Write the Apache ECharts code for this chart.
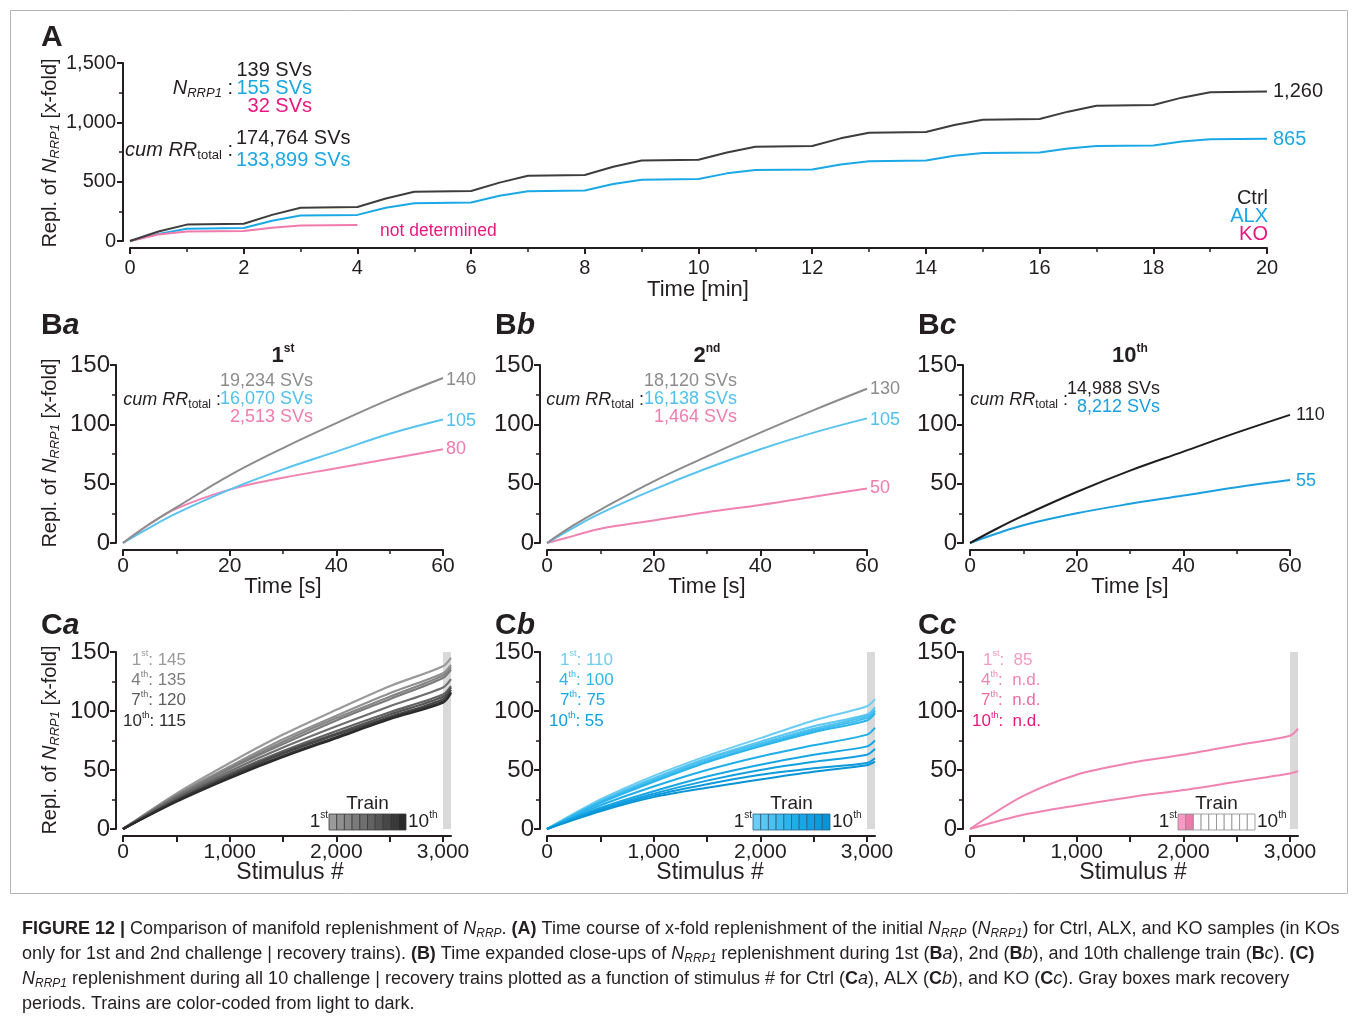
<!DOCTYPE html>
<html><head><meta charset="utf-8">
<script src="https://cdn.jsdelivr.net/npm/echarts@6/dist/echarts.min.js"></script>
<style>html,body{margin:0;padding:0;background:#fff}#c{width:1358px;height:1022px}</style>
</head><body><div id="c"></div><script>
// ================= DATA =================
// Panel A: cumulative x-fold replenishment over time [min]
const timeA = [0,0.5,1, 2,2.5,3, 4,4.5,5, 6,6.5,7, 8,8.5,9, 10,10.5,11, 12,12.5,13, 14,14.5,15, 16,16.5,17, 18,18.5,19, 20];
const ctrlA = [0,80,138, 145,220,280, 286,358,415, 421,492,550, 556,625,678, 684,745,795, 801,865,912, 918,978,1022, 1028,1090,1140, 1146,1208,1254, 1260];
const alxA  = [0,60,104, 110,170,214, 220,280,318, 324,382,420, 426,480,516, 522,570,598, 603,645,673, 678,718,741, 746,780,801, 805,838,857, 862];
const timeKO = [0,0.5,1,2,2.5,3,4];
const koA    = [0,55,80,85,111,131,134];

// Panel B: close-ups, time [s]
const timeB = [0,5,10,20,30,40,50,60];
const ctrlBa = [0,16,30,57,80,101,121,139];
const alxBa  = [0,13,25,45,62,77,92,104];
const koBa   = [0,16,29,45,55,63,71,79];
const ctrlBb = [0,15,28,52,73,93,112,130];
const alxBb  = [0,13,25,45,63,79,93,105];
const koBb   = [0,6,12,19,26,32,39,46];
const ctrlBc = [0,12,23,43,61,77,93,108];
const alxBc  = [0,8,15,25,33,40,47,53];

// Panel C: per train vs stimulus #
const stimC = [0,500,1000,1500,2000,2500,3000,3075];
const recovery = [3000, 3075];
const ctrlTrains = [
  [0,30,56,80,101,121,138,145],
  [0,29,53,76,96,115,132,139],
  [0,28,52,74,94,112,130,137],
  [0,28,51,72,92,110,128,135],
  [0,27,49,69,87,104,120,127],
  [0,26,47,66,83,99,114,121],
  [0,25,46,65,81,97,112,120],
  [0,24,45,64,80,95,110,118],
  [0,24,44,62,78,94,108,116],
  [0,23,43,61,77,93,107,115]
];
const alxTrains = [
  [0,25,45,62,77,92,104,110],
  [0,24,43,60,74,87,97,103],
  [0,23,42,59,72.5,85,95.5,101],
  [0,23,41,57.5,71,83.5,94,100],
  [0,22,40,56.5,70,82,92,98],
  [0,20,36,50,61.5,71,80,86],
  [0,18,32,44.5,54.5,63,70,75],
  [0,17,30,41,50,57,63,68],
  [0,16,28.5,38,46,51.5,56,60],
  [0,15,27,35,42,48.5,54,57]
];
const koTrains = [
  [0,28,46,56,63,71,79,85],
  [0,12,20,27,33,40,47,49]
];
const ticksC_x = [0,500,1000,1500,2000,2500,3000];
const labelsC_x = [0,1000,2000,3000];

// ================= STYLE =================
const FONT = '"Liberation Sans", Arial, Helvetica, sans-serif';
const INK = '#231f20';
const C_CTRL = '#3d3d3d', C_ALX = '#1ba8e6', C_KO_LINE = '#f07aaa', C_KO_TXT = '#e8187e';
const C_GRAY1 = '#8c8c8c', C_BLUE1 = '#5ac4f0', C_PINK1 = '#f183b3';
const C_BLK10 = '#1e1e1e', C_BLUE10 = '#1a9fe0';
const ctrlColors = ['#9a9a9a','#909090','#868686','#7b7b7b','#6f6f6f','#626262','#555555','#474747','#393939','#2b2b2b'];
const alxColors  = ['#6ccdf4','#5cc7f2','#4cc1f0','#3cbbee','#2cb4ec','#20aee9','#18a7e5','#12a0e0','#0e9adb','#0a94d6'];
const koColors   = ['#f59ac2','#ec7aad','#ffffff','#ffffff','#ffffff','#ffffff','#ffffff','#ffffff','#ffffff','#ffffff'];

const fmtK = v => Number(v).toLocaleString('en-US');

function richSet(s, bold) {
  const lh = Math.round(s * 1.21);
  const w = bold ? 'bold' : 'normal';
  const base = {fontFamily: FONT, fontSize: s, lineHeight: lh, fontWeight: w};
  return {
    n: {...base},
    i: {...base, fontStyle: 'italic'},
    b: {...base, fontWeight: 'bold'},
    bi: {...base, fontWeight: 'bold', fontStyle: 'italic'},
    sub: {fontFamily: FONT, fontSize: Math.round(s*0.65), verticalAlign: 'bottom', lineHeight: lh},
    subi: {fontFamily: FONT, fontSize: Math.round(s*0.65), verticalAlign: 'bottom', lineHeight: lh, fontStyle: 'italic'},
    sup: {fontFamily: FONT, fontSize: Math.round(s*0.55), verticalAlign: 'top', lineHeight: lh, fontWeight: w}
  };
}
function txt(x, y, text, o) {
  o = o || {};
  const s = o.size || 20;
  return {type:'text', x, y, rotation: o.rot || 0, z: 100, silent: true,
    style: {text, fill: o.color || INK, fontFamily: FONT, fontSize: s,
      fontWeight: o.weight || 'normal', fontStyle: o.italic ? 'italic' : 'normal',
      lineHeight: Math.round(s*1.21), align: o.align || 'left', verticalAlign: 'middle',
      rich: richSet(s, o.weight === 'bold')}};
}

// ================= GRIDS & AXES =================
const grids = [
  {left:130, top:63, width:1137, height:178},
  {left:123, top:365, width:320, height:178},
  {left:547, top:365, width:320, height:178},
  {left:970, top:365, width:320, height:178},
  {left:123, top:652, width:328, height:177},
  {left:547, top:652, width:328, height:177},
  {left:970, top:652, width:328, height:177}
];
function axBase() {
  return {
    type:'value', offset:7,
    axisLine:{show:true, onZero:false, lineStyle:{color:INK, width:2}},
    axisTick:{show:true, inside:false, length:6, lineStyle:{color:INK, width:2}},
    minorTick:{show:true, splitNumber:2, length:4, lineStyle:{color:INK, width:1.5}},
    splitLine:{show:false}, minorSplitLine:{show:false}
  };
}
const xAxes = [], yAxes = [];
xAxes.push({...axBase(), gridIndex:0, min:0, max:20, interval:2,
  axisLabel:{fontSize:20, margin:10, color:INK, fontFamily:FONT}});
yAxes.push({...axBase(), gridIndex:0, min:0, max:1500, interval:500,
  axisLabel:{fontSize:20, margin:7, color:INK, fontFamily:FONT, formatter: fmtK}});
for (let g = 1; g <= 3; g++) {
  xAxes.push({...axBase(), gridIndex:g, min:0, max:60, interval:20,
    axisLabel:{fontSize:21, margin:6, color:INK, fontFamily:FONT}});
  yAxes.push({...axBase(), gridIndex:g, min:0, max:150, interval:50,
    axisLabel:{fontSize:24, margin:6, color:INK, fontFamily:FONT}});
}
for (let g = 4; g <= 6; g++) {
  const b = axBase();
  xAxes.push({...b, gridIndex:g, min:0, max:recovery[1], interval:500,
    axisTick:{...b.axisTick, customValues: ticksC_x},
    minorTick:{show:false},
    axisLabel:{fontSize:21, margin:6, color:INK, fontFamily:FONT, customValues: labelsC_x, formatter: fmtK}});
  yAxes.push({...axBase(), gridIndex:g, min:0, max:150, interval:50,
    axisLabel:{fontSize:24, margin:6, color:INK, fontFamily:FONT}});
}

// ================= SERIES =================
const series = [];
function line(gi, xs, ys, color, width, smooth, z) {
  series.push({type:'line', xAxisIndex:gi, yAxisIndex:gi, data: xs.map((x,i)=>[x, ys[i]]),
    showSymbol:false, symbol:'none', smooth: smooth || false, z: z || 3, silent:true,
    lineStyle:{color, width: width || 2}});
}
line(0, timeA, alxA, C_ALX, 2);
line(0, timeKO, koA, C_KO_LINE, 2);
line(0, timeA, ctrlA, C_CTRL, 2);

line(1, timeB, koBa, C_PINK1, 2, 0.4);
line(1, timeB, alxBa, C_BLUE1, 2, 0.4);
line(1, timeB, ctrlBa, C_GRAY1, 2, 0.4);
line(2, timeB, koBb, C_PINK1, 2, 0.4);
line(2, timeB, alxBb, C_BLUE1, 2, 0.4);
line(2, timeB, ctrlBb, C_GRAY1, 2, 0.4);
line(3, timeB, alxBc, C_BLUE10, 2, 0.4);
line(3, timeB, ctrlBc, C_BLK10, 2, 0.4);

for (let g = 4; g <= 6; g++) {
  series.push({type:'line', xAxisIndex:g, yAxisIndex:g, data:[[recovery[0],0]], showSymbol:false, symbol:'none',
    lineStyle:{width:0, opacity:0}, z:1, silent:true,
    markArea:{silent:true, itemStyle:{color:'#d9d9d9'},
      data:[[{xAxis:recovery[0], yAxis:0},{xAxis:recovery[1], yAxis:150}]]}});
}
ctrlTrains.forEach((d,i) => line(4, stimC, d, ctrlColors[i], 2.2, 0.3));
alxTrains.forEach((d,i) => line(5, stimC, d, alxColors[i], 2, 0.3));
koTrains.forEach((d,i) => line(6, stimC, d, C_PINK1, 2, 0.3));

// ================= TEXT / GRAPHICS =================
const G = [];
G.push({type:'rect', shape:{x:10.5, y:10.5, width:1337, height:883}, style:{fill:'none', stroke:'#b5b5b5', lineWidth:1}, silent:true});

// Panel letters
G.push(txt(41, 38, 'A', {size:30, weight:'bold'}));
G.push(txt(41, 326, 'B{bi|a}', {size:30, weight:'bold'}));
G.push(txt(495, 326, 'B{bi|b}', {size:30, weight:'bold'}));
G.push(txt(918, 326, 'B{bi|c}', {size:30, weight:'bold'}));
G.push(txt(41, 626, 'C{bi|a}', {size:30, weight:'bold'}));
G.push(txt(495, 626, 'C{bi|b}', {size:30, weight:'bold'}));
G.push(txt(918, 626, 'C{bi|c}', {size:30, weight:'bold'}));

// Y axis names
const yName = '{n|Repl. of }{i|N}{subi|RRP1}{n| [x-fold]}';
G.push(txt(50, 153, yName, {size:20, rot:Math.PI/2, align:'center'}));
G.push(txt(50, 453, yName, {size:20, rot:Math.PI/2, align:'center'}));
G.push(txt(50, 740, yName, {size:20, rot:Math.PI/2, align:'center'}));

// X axis names
G.push(txt(698, 290, 'Time [min]', {size:22, align:'center'}));
[283, 707, 1130].forEach(x => G.push(txt(x, 587, 'Time [s]', {size:22, align:'center'})));
[290, 710, 1133].forEach(x => G.push(txt(x, 873, 'Stimulus #', {size:23, align:'center'})));

// Panel A annotations
G.push(txt(233, 88, '{i|N}{subi|RRP1}{n| :}', {size:20, align:'right'}));
G.push(txt(312, 70, '139 SVs', {size:20, align:'right', color:INK}));
G.push(txt(312, 88, '155 SVs', {size:20, align:'right', color:C_ALX}));
G.push(txt(312, 106, '32 SVs', {size:20, align:'right', color:C_KO_TXT}));
G.push(txt(233, 150, '{i|cum RR}{sub|total}{n| :}', {size:20, align:'right'}));
G.push(txt(236, 138, '174,764 SVs', {size:20, color:INK}));
G.push(txt(236, 160, '133,899 SVs', {size:20, color:C_ALX}));
G.push(txt(1268, 198, 'Ctrl', {size:20, align:'right', color:INK}));
G.push(txt(1268, 216, 'ALX', {size:20, align:'right', color:C_ALX}));
G.push(txt(1268, 234, 'KO', {size:20, align:'right', color:C_KO_TXT}));
G.push(txt(380, 231, 'not determined', {size:17.5, color:C_KO_TXT}));
G.push(txt(1273, 91, '1,260', {size:20, color:INK}));
G.push(txt(1273, 139, '865', {size:20, color:C_ALX}));

// Panel B annotations
const TB1 = '#8c8c8c', TB2 = '#4fc0ef', TB3 = '#f07cb0';
G.push(txt(283, 356, '1{sup|st}', {size:22, weight:'bold', align:'center'}));
G.push(txt(707, 356, '2{sup|nd}', {size:22, weight:'bold', align:'center'}));
G.push(txt(1130, 356, '10{sup|th}', {size:22, weight:'bold', align:'center'}));
G.push(txt(313, 381, '19,234 SVs', {size:18, align:'right', color:TB1}));
G.push(txt(221, 400, '{i|cum RR}{sub|total}{n| :}', {size:18, align:'right'}));
G.push(txt(313, 399, '16,070 SVs', {size:18, align:'right', color:TB2}));
G.push(txt(313, 417, '2,513 SVs', {size:18, align:'right', color:TB3}));
G.push(txt(446, 380, '140', {size:18, color:TB1}));
G.push(txt(446, 421, '105', {size:18, color:TB2}));
G.push(txt(446, 449, '80', {size:18, color:TB3}));

G.push(txt(737, 381, '18,120 SVs', {size:18, align:'right', color:TB1}));
G.push(txt(644, 400, '{i|cum RR}{sub|total}{n| :}', {size:18, align:'right'}));
G.push(txt(737, 399, '16,138 SVs', {size:18, align:'right', color:TB2}));
G.push(txt(737, 417, '1,464 SVs', {size:18, align:'right', color:TB3}));
G.push(txt(870, 389, '130', {size:18, color:TB1}));
G.push(txt(870, 420, '105', {size:18, color:TB2}));
G.push(txt(870, 488, '50', {size:18, color:TB3}));

G.push(txt(1068, 400, '{i|cum RR}{sub|total}{n| :}', {size:18, align:'right'}));
G.push(txt(1160, 389, '14,988 SVs', {size:18, align:'right', color:INK}));
G.push(txt(1160, 407, '8,212 SVs', {size:18, align:'right', color:C_BLUE10}));
G.push(txt(1296, 415, '110', {size:18, color:INK}));
G.push(txt(1296, 481, '55', {size:18, color:C_BLUE10}));

// Panel C annotations
const caTxt = [['1{sup|st}: 145','#9a9a9a'],['4{sup|th}: 135','#7d7d7d'],['7{sup|th}: 120','#5c5c5c'],['10{sup|th}: 115','#2b2b2b']];
caTxt.forEach((t,i) => G.push(txt(186, 660 + i*20.4, t[0], {size:17, align:'right', color:t[1]})));
const cbTxt = [['1{sup|st}: 110','#6dcdf4',560],['4{sup|th}: 100','#2fb6ec',559],['7{sup|th}: 75','#1aa9e6',560],['10{sup|th}: 55','#0f9fe0',549]];
cbTxt.forEach((t,i) => G.push(txt(t[2], 660 + i*20.4, t[0], {size:17, color:t[1]})));
const ccTxt = [['1{sup|st}:  85','#f59ac0',983],['4{sup|th}:  n.d.','#f184b4',981],['7{sup|th}:  n.d.','#ee6aa4',981],['10{sup|th}:  n.d.','#e6177d',972]];
ccTxt.forEach((t,i) => G.push(txt(t[2], 660 + i*20.4, t[0], {size:17, color:t[1]})));

// Train legends
function trainLegend(x0, colors, stroke) {
  const w = 77, h = 16, y0 = 814, n = colors.length;
  G.push(txt(x0 + w/2, 804, 'Train', {size:19, align:'center'}));
  G.push(txt(x0 - 1, 822, '1{sup|st}', {size:19, align:'right'}));
  G.push(txt(x0 + w + 2, 822, '10{sup|th}', {size:19}));
  colors.forEach((c,i) => G.push({type:'rect', z:100, silent:true,
    shape:{x: x0 + i*w/n, y: y0, width: w/n, height: h},
    style:{fill:c, stroke: stroke, lineWidth:0.8}}));
}
trainLegend(329, ctrlColors, '#3a3a3a');
trainLegend(753, alxColors, '#2a5f80');
trainLegend(1178, koColors, '#8a8a8a');

// Caption
const cap = [
  '{b|FIGURE 12 |} Comparison of manifold replenishment of {i|N}{subi|RRP}. {b|(A)} Time course of x-fold replenishment of the initial {i|N}{subi|RRP} ({i|N}{subi|RRP1}) for Ctrl, ALX, and KO samples (in KOs',
  'only for 1st and 2nd challenge | recovery trains). {b|(B)} Time expanded close-ups of {i|N}{subi|RRP1} replenishment during 1st ({b|B}{i|a}), 2nd ({b|B}{i|b}), and 10th challenge train ({b|B}{i|c}). {b|(C)}',
  '{i|N}{subi|RRP1} replenishment during all 10 challenge | recovery trains plotted as a function of stimulus # for Ctrl ({b|C}{i|a}), ALX ({b|C}{i|b}), and KO ({b|C}{i|c}). Gray boxes mark recovery',
  'periods. Trains are color-coded from light to dark.'
];
cap.forEach((t,i) => G.push(txt(22, 929 + i*25, t, {size:18})));

const chart = echarts.init(document.getElementById('c'), null, {renderer:'canvas'});
chart.setOption({
  animation:false,
  backgroundColor:'#ffffff',
  grid: grids,
  xAxis: xAxes,
  yAxis: yAxes,
  series,
  graphic:{elements:G}
});
</script></body></html>
